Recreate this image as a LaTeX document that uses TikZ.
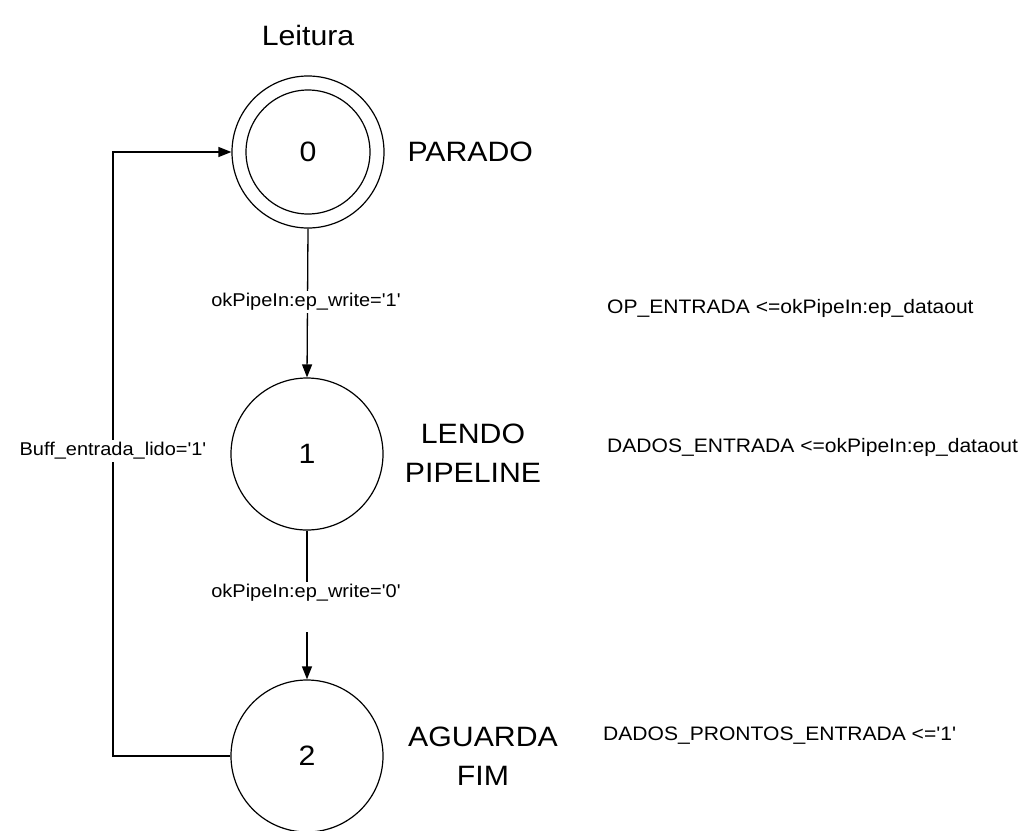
\documentclass[tikz,border=0pt]{standalone}
\usepackage{fontspec}
\newfontfamily\arialf{Liberation Sans}[FakeStretch=1.08]
\usetikzlibrary{arrows.meta}
\begin{document}
\begin{tikzpicture}[x=1pt,y=-1pt,
  every node/.style={font=\arialf},
  state/.style={draw,circle,line width=1.2pt,minimum size=152pt,inner sep=0pt,font=\arialf\fontsize{28}{32}\selectfont},
  innerst/.style={draw,circle,line width=1.2pt,minimum size=124pt,inner sep=0pt},
  big/.style={font=\arialf\fontsize{28}{39}\selectfont,align=center},
  small/.style={font=\arialf\fontsize{19.5}{22}\selectfont,inner sep=2pt},
  edgelab/.style={font=\arialf\fontsize{18.5}{22}\selectfont,inner sep=2pt,fill=white},
  conn/.style={line width=1.3pt},
  arr/.style={conn,-{Triangle[length=13pt,width=10pt]}}]
\useasboundingbox[fill=white] (0,0) rectangle (1030,830);

\node (title) [big] at (308,35) {Leitura};

\node (s0) [state] at (308,152) {0};
\node (s0i) [innerst] at (308,152) {};
\node (s1) [state] at (307,454) {1};
\node (s2) [state] at (307,756) {2};

\node (n0) [big,anchor=west] at (404,152) {PARADO};
\node (n1) [big] at (473,453) {LENDO\\PIPELINE};
\node (n2) [big] at (483,756) {AGUARDA\\FIM};

\node (a0) [small,anchor=west] at (605,308) {OP\_ENTRADA <=okPipeIn:ep\_dataout};
\node (a1) [small,anchor=west] at (605,447) {DADOS\_ENTRADA <=okPipeIn:ep\_dataout};
\node (a2) [small,anchor=west] at (601,736) {DADOS\_PRONTOS\_ENTRADA <='1'};

\draw[arr] (s0.south) -- (s1.north);
\node (l01) [edgelab] at (306,302) {okPipeIn:ep\_write='1'};

\node (l12) [edgelab] at (306,593) {okPipeIn:ep\_write='0'};
\coordinate (g12) at (307,632);
\draw[conn] (s1.south) -- (l12.north -| s1.south);
\draw[arr] (g12) -- (s2.north);

\coordinate (fb) at (113,756);
\draw[arr] (s2.west) -- (fb) |- (s0.west);
\node (lfb) [edgelab] at (113,451) {Buff\_entrada\_lido='1'};
\end{tikzpicture}
\end{document}
